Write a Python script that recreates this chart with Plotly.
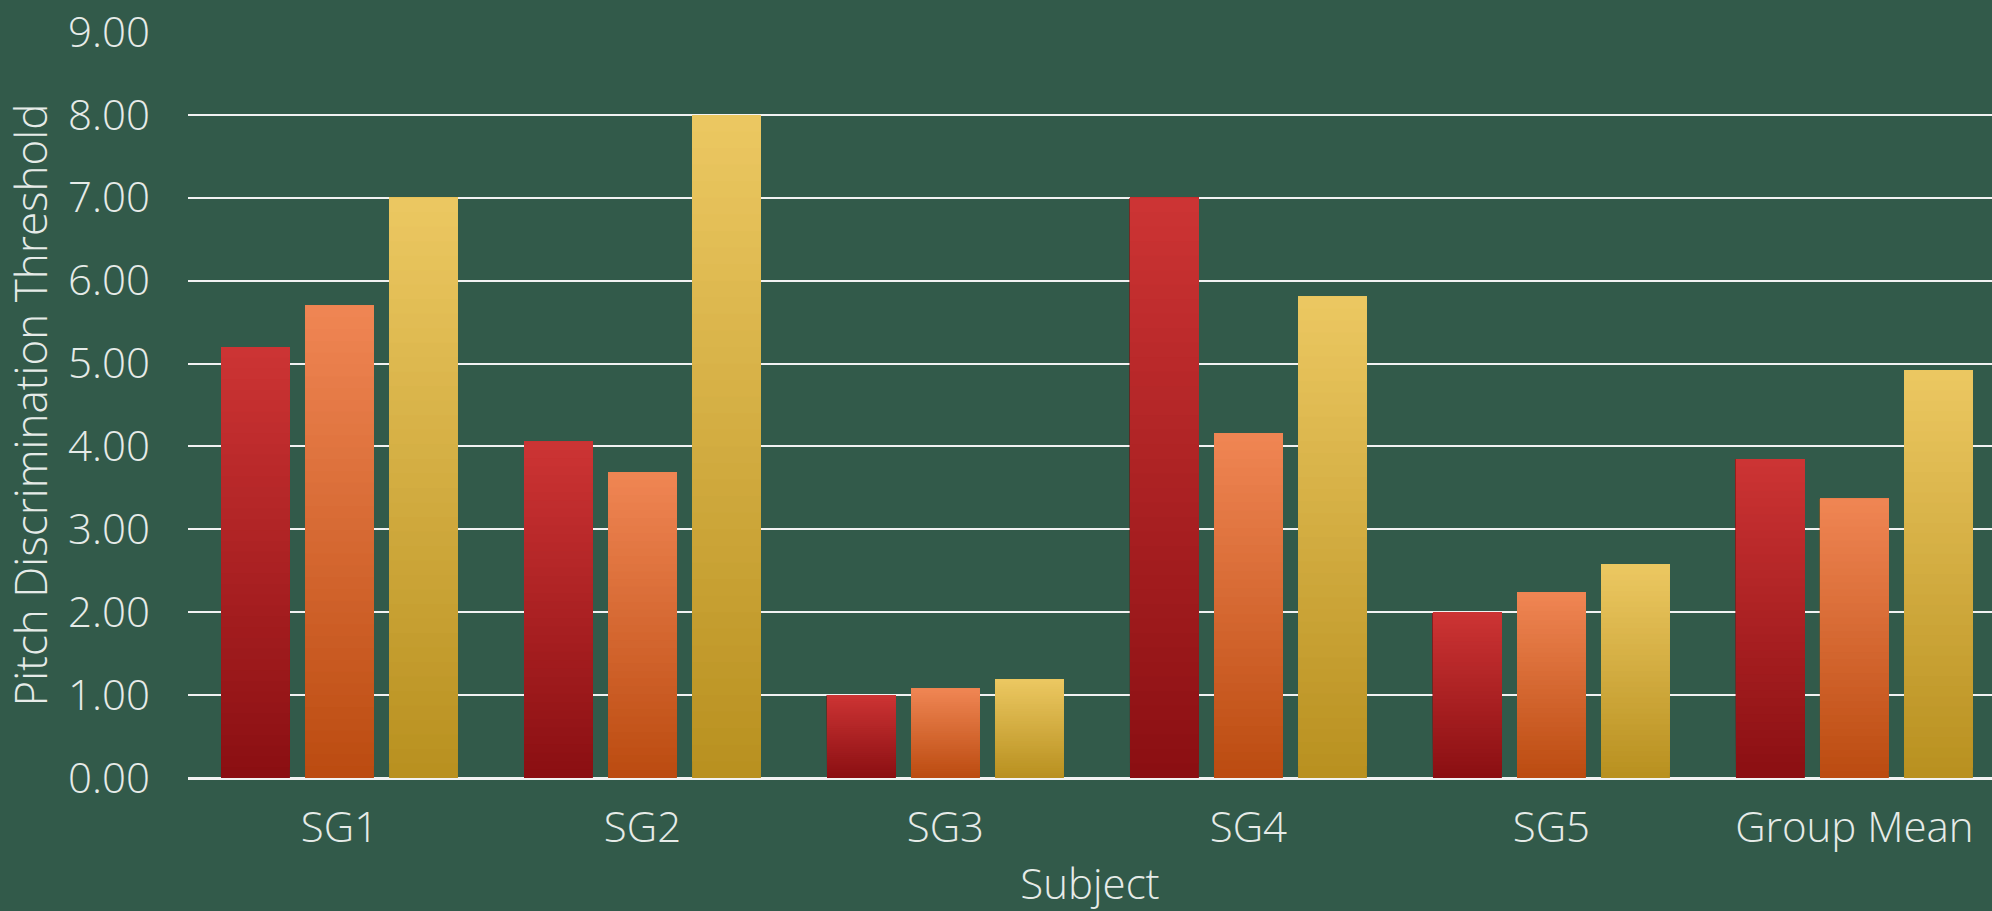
import plotly.graph_objects as go

# ---- data ----
subjects = ["SG1", "SG2", "SG3", "SG4", "SG5", "Group Mean"]
series_names = ["Condition 1", "Condition 2", "Condition 3"]
cond1 = [5.20, 4.06, 1.00, 7.00, 2.00, 3.85]
cond2 = [5.70, 3.69, 1.08, 4.16, 2.24, 3.37]
cond3 = [7.00, 8.00, 1.19, 5.81, 2.58, 4.92]
y_ticks = [0, 1, 2, 3, 4, 5, 6, 7, 8, 9]

# ---- style ----
top_colors = ["#cd3434", "#f08654", "#ecc862"]
bottom_colors = ["#8a0f12", "#bb4b10", "#b8901f"]
BG = "#325a4a"
FONT = "Open Sans"
TXT = "#e6ebe8"
N_SEG = 40


def hex2rgb(h):
    h = h.lstrip("#")
    return tuple(int(h[i:i + 2], 16) for i in (0, 2, 4))


def mix(c0, c1, t):
    a, b = hex2rgb(c0), hex2rgb(c1)
    return "rgb(%d,%d,%d)" % tuple(round(a[i] + (b[i] - a[i]) * t) for i in range(3))


fig = go.Figure()
for s, (name, vals) in enumerate(zip(series_names, [cond1, cond2, cond3])):
    for k in range(N_SEG):
        t = (k + 0.5) / N_SEG
        # each layer runs from its start up to the bar's value; later layers cover the
        # upper part, leaving a smooth vertical gradient without seams
        fig.add_trace(go.Bar(
            x=subjects,
            y=[v * (1 - k / N_SEG) for v in vals],
            base=[v * k / N_SEG for v in vals],
            offsetgroup=str(s),
            name=name,
            legendgroup=name,
            showlegend=False,
            marker=dict(color=mix(bottom_colors[s], top_colors[s], t), line=dict(width=0)),
            customdata=vals,
            hovertemplate="%{x}: %{customdata:.2f}<extra>" + name + "</extra>",
        ))

fig.update_layout(
    width=1992, height=911,
    barmode="group", bargap=0.168, bargroupgap=0.18,
    paper_bgcolor=BG, plot_bgcolor=BG,
    margin=dict(l=188, r=0, t=32, b=133),
    font=dict(family=FONT, size=42, color=TXT, weight=300),
    showlegend=False,
)
fig.update_xaxes(
    type="category",
    range=[-0.5, 5.454],
    showgrid=False,
    ticks="",
    ticklabelstandoff=12,
    tickfont=dict(family=FONT, size=42, color=TXT, weight=300),
    title=dict(text="Subject", font=dict(family=FONT, size=42, color=TXT, weight=300), standoff=18),
    showline=True, linecolor="#f2f2f2", linewidth=2,
)
fig.update_yaxes(
    range=[0, 9],
    tickvals=y_ticks,
    tickformat=".2f",
    showgrid=True, gridcolor="#f2f2f2", gridwidth=2,
    zeroline=True, zerolinecolor="#f2f2f2", zerolinewidth=2,
    ticks="",
    ticklabelstandoff=37,
    tickfont=dict(family=FONT, size=42, color=TXT, weight=300),
    title=dict(text="Pitch Discrimination Threshold", font=dict(family=FONT, size=44, color=TXT, weight=300), standoff=12),
)

fig.write_html("out.html")
